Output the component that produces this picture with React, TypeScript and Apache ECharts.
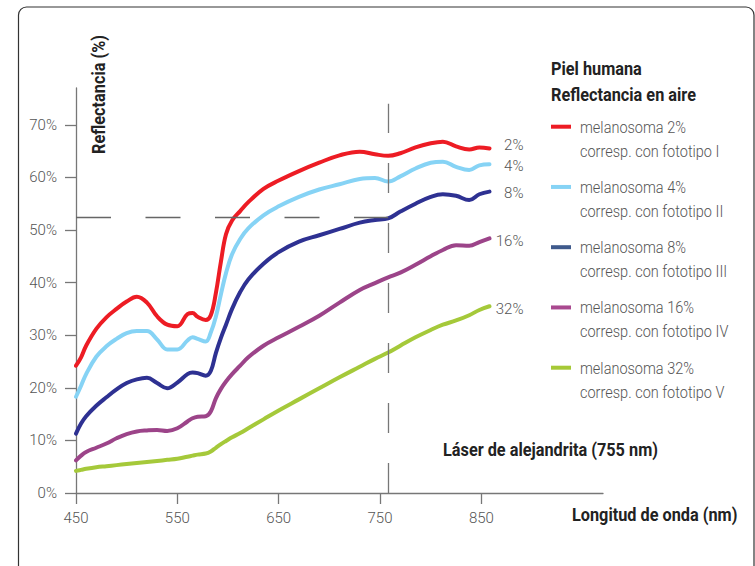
import React, { useEffect, useRef } from "react";
import * as echarts from "echarts";

const wavelengths = [450, 455, 460, 470, 480, 490, 500, 510, 520, 530, 540, 550, 560, 565, 570, 578, 583, 588, 593, 598, 604, 612, 620, 635, 650, 670, 690, 710, 730, 745, 758, 770, 785, 800, 812, 825, 838, 848, 858];

const mel2 = [24.2, 25.8, 28.0, 31.2, 33.4, 35.0, 36.4, 37.3, 36.2, 33.6, 32.0, 31.7, 34.0, 34.2, 33.5, 32.9, 33.8, 38.0, 44.0, 49.2, 51.8, 53.6, 55.3, 57.8, 59.4, 61.2, 62.8, 64.2, 64.9, 64.4, 64.1, 64.6, 65.7, 66.5, 66.8, 65.9, 65.3, 65.7, 65.5];
const mel4 = [18.3, 20.4, 22.6, 25.9, 27.9, 29.3, 30.4, 30.8, 30.8, 29.2, 27.3, 27.3, 29.0, 29.6, 29.3, 28.8, 30.5, 33.5, 37.8, 41.8, 45.4, 48.3, 50.3, 52.8, 54.5, 56.3, 57.7, 58.7, 59.7, 59.9, 59.2, 60.2, 61.7, 62.8, 63.0, 62.0, 61.4, 62.3, 62.5];
const mel8 = [11.3, 13.2, 14.6, 16.6, 18.2, 19.7, 20.9, 21.6, 21.9, 20.9, 19.9, 21.0, 22.6, 22.9, 22.8, 22.3, 23.2, 26.6, 29.5, 32.0, 35.0, 38.2, 40.6, 43.6, 45.8, 47.8, 49.0, 50.2, 51.4, 51.9, 52.2, 53.5, 55.0, 56.3, 56.8, 56.5, 55.7, 56.8, 57.3];
const mel16 = [6.2, 7.1, 7.8, 8.6, 9.4, 10.4, 11.2, 11.7, 11.9, 12.0, 11.8, 12.3, 13.6, 14.2, 14.5, 14.6, 15.5, 18.0, 19.8, 21.2, 22.6, 24.2, 25.8, 28.0, 29.6, 31.6, 33.7, 36.2, 38.6, 39.9, 41.0, 41.9, 43.4, 45.0, 46.2, 47.1, 47.0, 47.7, 48.4];
const mel32 = [4.2, 4.4, 4.6, 4.9, 5.1, 5.3, 5.5, 5.7, 5.9, 6.1, 6.3, 6.5, 6.9, 7.1, 7.3, 7.5, 7.9, 8.6, 9.3, 9.9, 10.6, 11.4, 12.3, 14.0, 15.7, 17.8, 19.9, 22.0, 24.0, 25.5, 26.7, 28.0, 29.6, 31.0, 32.0, 32.8, 33.8, 34.8, 35.5];

const seriesValues = [mel2, mel4, mel8, mel16, mel32];
const endLabels = ["2%", "4%", "8%", "16%", "32%"];
const legendLine1 = ["melanosoma 2%", "melanosoma 4%", "melanosoma 8%", "melanosoma 16%", "melanosoma 32%"];
const legendLine2 = ["corresp. con fototipo I", "corresp. con fototipo II", "corresp. con fototipo III", "corresp. con fototipo IV", "corresp. con fototipo V"];
const lineColors = ["#ed1c24", "#86d3f5", "#2e3192", "#9c4489", "#a5c93a"];
const legendColors = ["#ed1c24", "#86d3f5", "#3f5a8c", "#a9498f", "#a6c936"];
const endLabelOffsets = [-3, 2, 1, 3, 3];

const xTicks = [450, 550, 650, 750, 850];
const yTicks = [0, 10, 20, 30, 40, 50, 60, 70];
const laserNm = 758;
const laserTop = 74;
const refLevel = 52.5;

const FONT = "Roboto, 'Noto Sans', sans-serif";

function measure(text: string, font: string): number {
  const c = document.createElement("canvas");
  const ctx = c.getContext("2d");
  if (!ctx) return 1;
  ctx.font = font;
  return ctx.measureText(text).width || 1;
}

export default function App() {
  const ref = useRef<HTMLDivElement>(null);
  useEffect(() => {
    if (!ref.current) return;
    const chart = echarts.init(ref.current, undefined, { renderer: "svg" });

    const boldSize = 19;
    const boldFont = `bold ${boldSize}px ${FONT}`;
    const boldScale = 145 / measure("Reflectancia en aire", boldFont);
    const legSize = 17;
    const legFont = `300 ${legSize}px ${FONT}`;
    const legScale = 106 / measure("melanosoma 2%", legFont);

    const series: any[] = seriesValues.map((vals, i) => ({
      type: "line",
      name: legendLine1[i],
      data: wavelengths.map((w, j) => [w, vals[j]]),
      smooth: 0.4,
      showSymbol: false,
      symbol: "none",
      z: 3,
      lineStyle: { color: lineColors[i], width: 4, cap: "round", join: "round" },
      itemStyle: { color: lineColors[i] },
      endLabel: {
        show: true,
        formatter: endLabels[i],
        color: "#555",
        fontSize: 15,
        fontWeight: 300,
        fontFamily: FONT,
        distance: 34,
        align: "right",
        offset: [0, endLabelOffsets[i]],
      },
    }));

    series.push({
      type: "line",
      data: [],
      z: 1,
      silent: true,
      markLine: {
        silent: true,
        symbol: ["none", "none"],
        label: { show: false },
        animation: false,
        data: [
          [
            { coord: [laserNm, 0], lineStyle: { color: "#777", width: 1.3, type: [30, 30] } },
            { coord: [laserNm, laserTop] },
          ],
          [
            { coord: [450, refLevel], lineStyle: { color: "#666", width: 1.3, type: [35, 34.5] } },
            { coord: [laserNm, refLevel] },
          ],
        ],
      },
    });

    const boldText = (text: string, x: number, y: number, align: string, extra: any = {}) => ({
      type: "text",
      x,
      y,
      scaleX: boldScale,
      ...extra,
      style: { text, fontSize: boldSize, fontWeight: "bold", fontFamily: FONT, fill: "#222", verticalAlign: "middle", align },
    });

    const graphics: any[] = [
      {
        type: "rect",
        shape: { x: 18.5, y: 7, width: 735.5, height: 620, r: 8 },
        style: { fill: "none", stroke: "#333", lineWidth: 1.2 },
        silent: true,
        z: 0,
      },
      boldText("Piel humana", 551, 69, "left"),
      boldText("Reflectancia en aire", 551, 95, "left"),
      boldText("Reflectancia (%)", 99, 94.5, "center", { rotation: Math.PI / 2 }),
      boldText("Longitud de onda (nm)", 572, 515, "left"),
      boldText("Láser de alejandrita (755 nm)", 443, 450, "left"),
    ];

    legendLine1.forEach((t, i) => {
      const y = 126.7 + i * 60.25;
      graphics.push({
        type: "line",
        shape: { x1: 551, y1: y, x2: 571, y2: y },
        style: { stroke: legendColors[i], lineWidth: 4 },
      });
      graphics.push({
        type: "text",
        x: 580,
        y: y,
        scaleX: legScale,
        style: { text: t, fontSize: legSize, fontWeight: 300, fontFamily: FONT, fill: "#555", verticalAlign: "middle", align: "left" },
      });
      graphics.push({
        type: "text",
        x: 580,
        y: y + 24,
        scaleX: legScale,
        style: { text: legendLine2[i], fontSize: legSize, fontWeight: 300, fontFamily: FONT, fill: "#555", verticalAlign: "middle", align: "left" },
      });
    });

    chart.setOption({
      animation: false,
      backgroundColor: "#fff",
      grid: { left: 76, top: 88, right: 152, bottom: 73, containLabel: false },
      xAxis: {
        type: "value",
        min: 450,
        max: 970,
        axisLine: { show: true, lineStyle: { color: "#777", width: 1.3 } },
        axisTick: { show: true, length: 11, customValues: xTicks, lineStyle: { color: "#777", width: 1.3 } },
        axisLabel: { customValues: xTicks, color: "#555", fontSize: 15, fontWeight: 300, fontFamily: FONT, margin: 17, formatter: (v: number) => String(v) },
        splitLine: { show: false },
      },
      yAxis: {
        type: "value",
        min: 0,
        max: 77,
        axisLine: { show: true, lineStyle: { color: "#777", width: 1.3 } },
        axisTick: { show: true, length: 11, customValues: yTicks, lineStyle: { color: "#777", width: 1.3 } },
        axisLabel: { customValues: yTicks, color: "#555", fontSize: 15, fontWeight: 300, fontFamily: FONT, margin: 19, formatter: (v: number) => v + "%" },
        splitLine: { show: false },
      },
      series,
      graphic: graphics,
    });

    return () => chart.dispose();
  }, []);

  return <div ref={ref} style={{ position: "fixed", left: 0, top: 0, width: 755, height: 566 }} />;
}
